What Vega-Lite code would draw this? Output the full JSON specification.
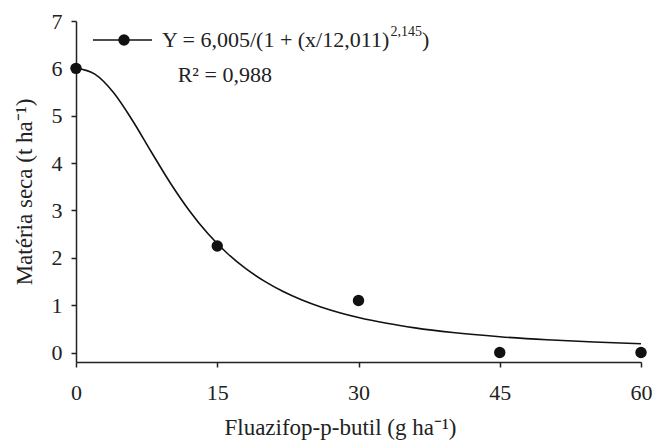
{
  "$schema": "https://vega.github.io/schema/vega-lite/v6.json",
  "width": 565,
  "height": 341,
  "padding": {"left": 76, "top": 21, "right": 12, "bottom": 82},
  "autosize": {"type": "none"},
  "background": "white",
  "config": {
    "view": {"stroke": null},
    "font": "Liberation Serif",
    "style": {
      "guide-label": {"font": "Liberation Serif", "fontSize": 22, "fill": "#222"},
      "guide-title": {"font": "Liberation Serif", "fontSize": 23, "fontWeight": "normal", "fill": "#222"}
    },
    "axis": {
      "labelFont": "Liberation Serif", "titleFont": "Liberation Serif",
      "labelFontSize": 22, "titleFontSize": 23, "titleFontWeight": "normal",
      "labelColor": "#222", "titleColor": "#222",
      "domainColor": "#222", "tickColor": "#222", "domainWidth": 1.5, "tickWidth": 1.5,
      "tickSize": 5, "grid": false
    },
    "text": {"font": "Liberation Serif"}
  },
  "datasets": {
    "obs": [
      {"dose": 0, "ms": 6.0},
      {"dose": 15, "ms": 2.25},
      {"dose": 30, "ms": 1.1},
      {"dose": 45, "ms": 0.0},
      {"dose": 60, "ms": 0.0}
    ],
    "fit": [
      {"dose": 0, "ms": 6.005}, {"dose": 2, "ms": 5.879}, {"dose": 4, "ms": 5.486},
      {"dose": 6, "ms": 4.899}, {"dose": 8, "ms": 4.234}, {"dose": 10, "ms": 3.585},
      {"dose": 12, "ms": 3.005}, {"dose": 14, "ms": 2.513}, {"dose": 16, "ms": 2.107},
      {"dose": 18, "ms": 1.776}, {"dose": 20, "ms": 1.507}, {"dose": 22, "ms": 1.288},
      {"dose": 24, "ms": 1.109}, {"dose": 26, "ms": 0.962}, {"dose": 28, "ms": 0.841},
      {"dose": 30, "ms": 0.739}, {"dose": 33, "ms": 0.617}, {"dose": 36, "ms": 0.521},
      {"dose": 40, "ms": 0.423}, {"dose": 45, "ms": 0.334}, {"dose": 50, "ms": 0.269},
      {"dose": 55, "ms": 0.221}, {"dose": 60, "ms": 0.185}
    ],
    "legline": [
      {"dose": 1.8, "ms": 6.6}, {"dose": 8.07, "ms": 6.6}
    ],
    "legdot": [{"dose": 5.1, "ms": 6.6}],
    "legtext": [
      {"dose": 9.13, "ms": 6.6, "label": "Y = 6,005/(1 + (x/12,011)"},
      {"dose": 10.8, "ms": 5.86, "label": "R² = 0,988"}
    ],
    "legsup": [
      {"dose": 33.4, "ms": 6.77, "label": "2,145"}
    ],
    "legparen": [
      {"dose": 36.75, "ms": 6.6, "label": ")"}
    ]
  },
  "layer": [
    {
      "data": {"name": "fit"},
      "mark": {"type": "line", "color": "#111", "strokeWidth": 1.6, "interpolate": "monotone"},
      "encoding": {
        "x": {"field": "dose", "type": "quantitative",
          "scale": {"domain": [0, 60], "nice": false},
          "axis": {"values": [0, 15, 30, 45, 60], "labelPadding": 15, "title": "Fluazifop-p-butil (g ha⁻¹)", "titlePadding": 13, "labelFlush": false,
            "titleX": 264, "titleAlign": "center",
            "labelFont": "Liberation Serif", "titleFont": "Liberation Serif"}},
        "y": {"field": "ms", "type": "quantitative",
          "scale": {"domain": [-0.2, 7], "nice": false, "zero": false},
          "axis": {"values": [0, 1, 2, 3, 4, 5, 6, 7], "labelPadding": 9, "title": "Matéria seca (t ha⁻¹)", "titlePadding": 15,
            "labelFont": "Liberation Serif", "titleFont": "Liberation Serif"}}
      }
    },
    {
      "data": {"name": "obs"},
      "mark": {"type": "point", "filled": true, "color": "#111", "size": 130, "opacity": 1},
      "encoding": {
        "x": {"field": "dose", "type": "quantitative"},
        "y": {"field": "ms", "type": "quantitative"}
      }
    },
    {
      "data": {"name": "legline"},
      "mark": {"type": "line", "color": "#111", "strokeWidth": 1.6},
      "encoding": {
        "x": {"field": "dose", "type": "quantitative"},
        "y": {"field": "ms", "type": "quantitative"}
      }
    },
    {
      "data": {"name": "legdot"},
      "mark": {"type": "point", "filled": true, "color": "#111", "size": 130, "opacity": 1},
      "encoding": {
        "x": {"field": "dose", "type": "quantitative"},
        "y": {"field": "ms", "type": "quantitative"}
      }
    },
    {
      "data": {"name": "legtext"},
      "mark": {"type": "text", "align": "left", "baseline": "middle", "fontSize": 22, "color": "#222", "font": "Liberation Serif"},
      "encoding": {
        "x": {"field": "dose", "type": "quantitative"},
        "y": {"field": "ms", "type": "quantitative"},
        "text": {"field": "label"}
      }
    },
    {
      "data": {"name": "legsup"},
      "mark": {"type": "text", "align": "left", "baseline": "middle", "fontSize": 14, "color": "#222", "font": "Liberation Serif"},
      "encoding": {
        "x": {"field": "dose", "type": "quantitative"},
        "y": {"field": "ms", "type": "quantitative"},
        "text": {"field": "label"}
      }
    },
    {
      "data": {"name": "legparen"},
      "mark": {"type": "text", "align": "left", "baseline": "middle", "fontSize": 22, "color": "#222", "font": "Liberation Serif"},
      "encoding": {
        "x": {"field": "dose", "type": "quantitative"},
        "y": {"field": "ms", "type": "quantitative"},
        "text": {"field": "label"}
      }
    }
  ]
}
